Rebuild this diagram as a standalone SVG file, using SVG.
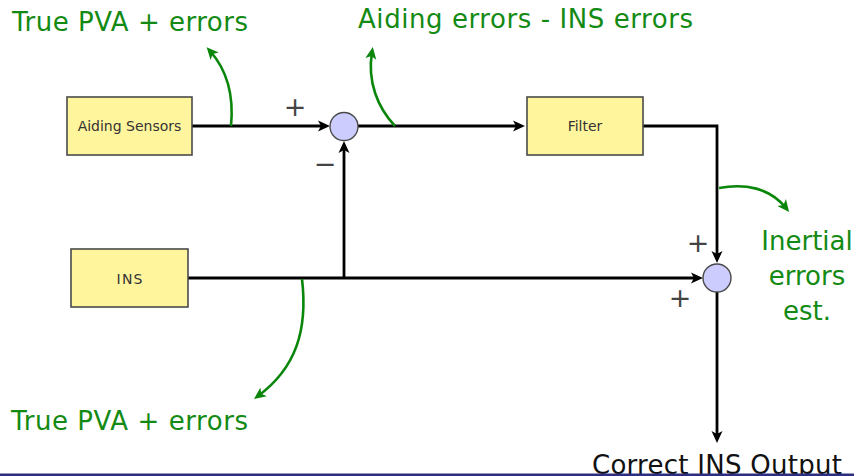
<svg xmlns="http://www.w3.org/2000/svg" width="854" height="476" viewBox="0 0 854 476">
  <style>
    .box { fill: #fff59d; stroke: #4a4a4a; stroke-width: 1.6; }
    .sum { fill: #ccccff; stroke: #4a4a4a; stroke-width: 1.4; }
    .boxtxt { font-family: "DejaVu Sans", sans-serif; font-size: 14px; fill: #333; text-anchor: middle; }
    .sign { font-family: "DejaVu Sans", sans-serif; font-size: 27px; fill: #444; text-anchor: middle; }
    .green { font-family: "DejaVu Sans", sans-serif; font-size: 26px; fill: #138a13; }
    .black { font-family: "DejaVu Sans", sans-serif; font-size: 26px; fill: #111; }
    .wire { fill: none; stroke: #000; stroke-width: 2.8; stroke-linejoin: miter; marker-end: url(#ab); }
    .gwire { fill: none; stroke: #0a860a; stroke-width: 2.6; marker-end: url(#ag); }
  </style>
  <defs>
    <marker id="ab" viewBox="-7 -7 14 14" refX="0" refY="0" markerWidth="14" markerHeight="14" markerUnits="userSpaceOnUse" orient="auto">
      <path d="M6,0 L-6,-5.5 L-3,0 L-6,5.5 Z" fill="#000"/>
    </marker>
    <marker id="ag" viewBox="-7 -7 14 14" refX="0" refY="0" markerWidth="14" markerHeight="14" markerUnits="userSpaceOnUse" orient="auto">
      <path d="M5,0 L-7,-5.5 L-4,0 L-7,5.5 Z" fill="#0a860a"/>
    </marker>
  </defs>

  <g id="connectors">
    <path class="wire" d="M192,126 H324"/>
    <path class="wire" d="M358,126 H519"/>
    <path class="wire" d="M643,126 H717 V257"/>
    <path class="wire" d="M188,278 H697"/>
    <path class="wire" d="M344,278 V147"/>
    <path class="wire" d="M717,292 V437"/>
    <path class="gwire" d="M231,126 C234,95 227,70 210,51"/>
    <path class="gwire" d="M395,126 C378,108 367,82 372,52"/>
    <path class="gwire" d="M302,279 C308,330 296,368 258,396"/>
    <path class="gwire" d="M719,188 C745,183 770,188 786,208"/>
  </g>

  <g id="aiding-sensors">
    <rect class="box" x="67" y="97" width="125" height="58"/>
    <text class="boxtxt" x="129.5" y="131">Aiding Sensors</text>
  </g>
  <g id="filter">
    <rect class="box" x="527" y="97" width="116" height="58"/>
    <text class="boxtxt" x="585" y="131">Filter</text>
  </g>
  <g id="ins">
    <rect class="box" x="71" y="249" width="117" height="58"/>
    <text class="boxtxt" x="129.5" y="284" textLength="26">INS</text>
  </g>
  <g id="sum1">
    <circle class="sum" cx="344" cy="126.5" r="14"/>
  </g>
  <g id="sum2">
    <circle class="sum" cx="717" cy="278" r="14"/>
  </g>

  <g id="signs">
    <text class="sign" x="295" y="116">+</text>
    <text class="sign" x="325" y="173">−</text>
    <text class="sign" x="698" y="252">+</text>
    <text class="sign" x="680" y="307">+</text>
  </g>

  <g id="labels">
    <text class="green" x="12" y="31" textLength="236">True PVA + errors</text>
    <text class="green" x="358" y="28" textLength="335">Aiding errors - INS errors</text>
    <text class="green" x="11" y="430" textLength="237">True PVA + errors</text>
    <text class="green" x="807" y="250" text-anchor="middle">Inertial</text>
    <text class="green" x="807" y="285" text-anchor="middle">errors</text>
    <text class="green" x="807" y="320" text-anchor="middle">est.</text>
    <text class="black" x="592" y="474" textLength="250">Correct INS Output</text>
  </g>

  <rect x="0" y="473.5" width="854" height="2.5" fill="#2e2e80"/>
</svg>
